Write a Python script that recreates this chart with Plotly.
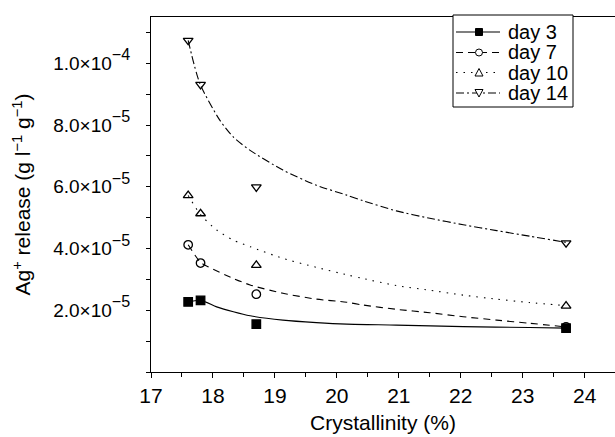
import plotly.graph_objects as go

# ---- data ----
crystallinity = [17.6, 17.8, 18.7, 23.7]
day3 = [2.27e-5, 2.32e-5, 1.55e-5, 1.42e-5]
day7 = [4.12e-5, 3.53e-5, 2.52e-5, 1.46e-5]
day10 = [5.72e-5, 5.13e-5, 3.46e-5, 2.14e-5]
day14 = [1.074e-4, 9.31e-5, 5.99e-5, 4.18e-5]

# fitted curves, in units of 1e-5
fit3_x = [17.60, 17.80, 18.06, 18.33, 18.60, 19.13, 19.67, 20.16, 20.96, 22.04, 23.11, 23.70]
fit3_y = [2.27, 2.32, 2.11, 1.95, 1.82, 1.68, 1.60, 1.55, 1.52, 1.47, 1.44, 1.42]
fit7_x = [17.60, 17.80, 17.92, 18.33, 18.60, 19.13, 19.67, 20.16, 20.42, 20.96, 21.50, 22.04, 22.58, 23.11, 23.70]
fit7_y = [4.12, 3.55, 3.41, 3.03, 2.82, 2.55, 2.36, 2.26, 2.17, 2.03, 1.92, 1.79, 1.68, 1.58, 1.46]
fit10_x = [17.60, 17.80, 18.06, 18.33, 18.60, 19.13, 19.67, 20.16, 20.42, 20.96, 21.50, 22.04, 22.58, 23.11, 23.70]
fit10_y = [5.72, 5.10, 4.60, 4.27, 4.06, 3.68, 3.39, 3.15, 3.03, 2.80, 2.65, 2.49, 2.36, 2.25, 2.15]
fit14_x = [17.60, 17.79, 18.11, 18.33, 18.60, 19.13, 19.67, 20.16, 20.42, 20.96, 21.50, 22.04, 22.58, 23.11, 23.70]
fit14_y = [10.74, 9.34, 8.16, 7.61, 7.18, 6.54, 6.05, 5.73, 5.55, 5.22, 4.98, 4.77, 4.58, 4.40, 4.20]

names = ["day 3", "day 7", "day 10", "day 14"]
x_ticks = [17, 18, 19, 20, 21, 22, 23, 24]
y_tickvals = [2e-5, 4e-5, 6e-5, 8e-5, 1e-4]
y_mant = ["2.0", "4.0", "6.0", "8.0", "1.0"]
y_exp = ["−5", "−5", "−5", "−5", "−4"]
y_ticktext = ["{}×10<span style='font-size:23px'><sup>{}</sup></span>".format(m, e)
              for m, e in zip(y_mant, y_exp)]

FONT = "Liberation Sans, Arial, Helvetica, sans-serif"
FS = 21
dashes = ["solid", "7px,5px", "1.5px,6px", "8px,3px,2px,3px"]
symbols = ["square", "circle-open", "triangle-up-open", "triangle-down-open"]
values = [day3, day7, day10, day14]
fits = [(fit3_x, fit3_y), (fit7_x, fit7_y), (fit10_x, fit10_y), (fit14_x, fit14_y)]

# plot-area geometry (pixels) used for the hand-drawn legend
W, H = 615, 437
ML, MR, MT, MB = 151, 0, 17, 65
PW, PH = W - ML - MR, H - MT - MB


def px(x):
    return (x - ML) / PW


def py(y):
    return (H - MB - y) / PH


fig = go.Figure()
for name, vals, (fx, fy), dash, sym in zip(names, values, fits, dashes, symbols):
    fig.add_trace(go.Scatter(
        x=fx, y=[v * 1e-5 for v in fy], mode="lines",
        line=dict(color="black", width=1.1, dash=dash, shape="spline", smoothing=0.7),
        showlegend=False, hoverinfo="skip"))
    fig.add_trace(go.Scatter(
        x=crystallinity, y=vals, mode="markers", name=name,
        marker=dict(symbol=sym, size=8.5, color="black", line=dict(color="black", width=1.3)),
        showlegend=False))

# ---- legend drawn by hand (box interrupts the top frame line) ----
shapes = [dict(type="rect", xref="paper", yref="paper", layer="above",
               x0=px(453), x1=px(573), y0=py(107), y1=py(15),
               line=dict(color="black", width=1), fillcolor="white")]
annotations = []
row_y = [32, 52.5, 72.5, 93]
lx0, lx1, mx = 456, 500, 479
ms = 3.5  # half marker size, px
for i, (name, dash, sym) in enumerate(zip(names, dashes, symbols)):
    yy = row_y[i]
    shapes.append(dict(type="line", xref="paper", yref="paper", layer="above",
                       x0=px(lx0), x1=px(lx1), y0=py(yy), y1=py(yy),
                       line=dict(color="black", width=1.1, dash=dash)))
    if sym == "square":
        shapes.append(dict(type="rect", xref="paper", yref="paper", layer="above",
                           x0=px(mx - ms), x1=px(mx + ms), y0=py(yy + ms), y1=py(yy - ms),
                           line=dict(color="black", width=1), fillcolor="black"))
    elif sym == "circle-open":
        shapes.append(dict(type="circle", xref="paper", yref="paper", layer="above",
                           x0=px(mx - ms), x1=px(mx + ms), y0=py(yy + ms), y1=py(yy - ms),
                           line=dict(color="black", width=1), fillcolor="white"))
    else:
        if sym == "triangle-up-open":
            pts = [(mx, yy - ms - 0.5), (mx - ms - 0.5, yy + ms), (mx + ms + 0.5, yy + ms)]
        else:
            pts = [(mx, yy + ms + 0.5), (mx - ms - 0.5, yy - ms), (mx + ms + 0.5, yy - ms)]
        path = "M {} {} L {} {} L {} {} Z".format(*[v for p in pts for v in (px(p[0]), py(p[1]))])
        shapes.append(dict(type="path", xref="paper", yref="paper", layer="above",
                           path=path, line=dict(color="black", width=1), fillcolor="white"))
    annotations.append(dict(xref="paper", yref="paper", x=px(506), y=py(yy),
                            xanchor="left", yanchor="middle", showarrow=False,
                            text=name, font=dict(size=20, family=FONT, color="black")))

fig.update_layout(
    width=W, height=H,
    margin=dict(l=ML, r=MR, t=MT, b=MB),
    plot_bgcolor="white", paper_bgcolor="white",
    font=dict(family=FONT, size=FS, color="black"),
    showlegend=False,
    shapes=shapes, annotations=annotations,
)
fig.update_xaxes(
    range=[17, 24.49], tickvals=x_ticks, showgrid=False, zeroline=False,
    showline=True, linecolor="black", linewidth=1, mirror=True,
    ticks="outside", ticklen=5, tickcolor="black",
    minor=dict(ticks="outside", dtick=0.5, tick0=17, ticklen=4, tickcolor="black"),
    title=dict(text="Crystallinity (%)", font=dict(size=FS), standoff=9),
    tickfont=dict(size=FS),
)
fig.update_yaxes(
    range=[0, 1.15e-4], tickvals=y_tickvals, ticktext=y_ticktext,
    showgrid=False, zeroline=False, showline=True, linecolor="black", linewidth=1,
    mirror=False, ticks="outside", ticklen=4, tickcolor="black",
    minor=dict(ticks="outside", dtick=1e-5, tick0=0, ticklen=4, tickcolor="black"),
    ticklabelstandoff=12,
    title=dict(text="Ag<sup>+</sup> release (g l<sup>−1</sup> g<sup>−1</sup>)",
               font=dict(size=FS), standoff=16),
    tickfont=dict(size=19),
)
fig.write_html("out.html")
